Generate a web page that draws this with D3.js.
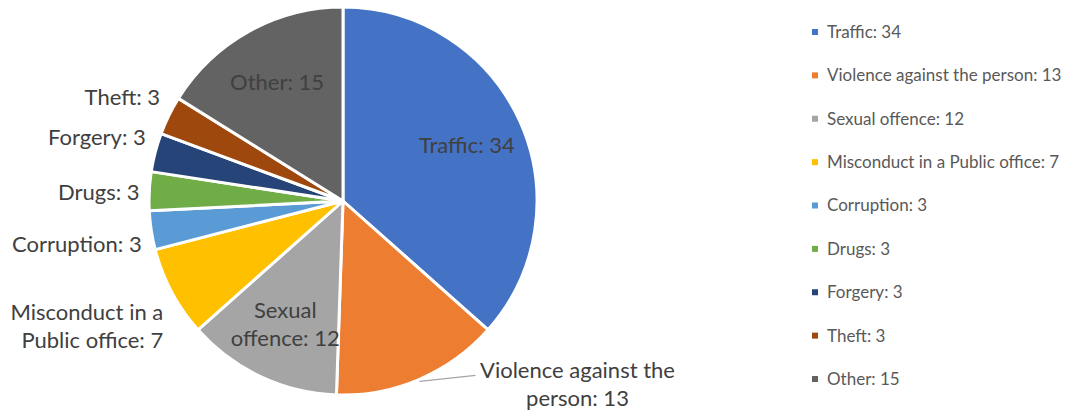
<!DOCTYPE html>
<html>
<head>
<meta charset="utf-8">
<script src="https://cdn.jsdelivr.net/npm/d3@7"></script>
<style>
  body { margin: 0; background: #fff; }
  svg { display: block; font-family: Lato, "Noto Sans", sans-serif; }
</style>
</head>
<body>
<svg id="chart"></svg>
<script>
// Offence categories pie

const categories = ["Traffic", "Violence against the person", "Sexual offence",
  "Misconduct in a Public office", "Corruption", "Drugs", "Forgery", "Theft", "Other"];
const counts = [34, 13, 12, 7, 3, 3, 3, 3, 15];
const colors = ["#4472C4", "#ED7D31", "#A5A5A5", "#FFC000", "#5B9BD5",
  "#70AD47", "#264478", "#9E480E", "#636363"];
// how each data label is wrapped / where it sits
const labelLines = [
  ["Traffic: 34"],
  ["Violence against the", "person: 13"],
  ["Sexual", "offence: 12"],
  ["Misconduct in a", "Public office: 7"],
  ["Corruption: 3"],
  ["Drugs: 3"],
  ["Forgery: 3"],
  ["Theft: 3"],
  ["Other: 15"]
];
const labelPlace = ["in", "leader", "in", "out", "out", "out", "out", "out", "in"];

(function () {
  const W = 1069, H = 416;
  const CX = 343, CY = 201, R = 194;
  const LABEL = "#404040", LEGEND = "#595959";

  const data = categories.map((c, i) => ({
    name: c, value: counts[i], color: colors[i],
    lines: labelLines[i], place: labelPlace[i]
  }));

  const svg = d3.select("#chart").attr("width", W).attr("height", H);
  const g = svg.append("g").attr("transform", `translate(${CX},${CY})`);

  const pie = d3.pie().value(d => d.value).sort(null);
  const arcs = pie(data);
  const arc = d3.arc().innerRadius(0).outerRadius(R);
  const arcIn = d3.arc().innerRadius(R * 0.7).outerRadius(R * 0.7);

  // Slices
  g.selectAll("path.slice")
    .data(arcs)
    .join("path")
    .attr("class", "slice")
    .attr("d", arc)
    .attr("fill", d => d.data.color)
    .attr("stroke", "#fff")
    .attr("stroke-width", 3)
    .attr("stroke-linejoin", "round");

  const mid = d => (d.startAngle + d.endAngle) / 2;
  const fs = 22, lh = 28;

  arcs.forEach(d => {
    const a = mid(d);
    const sx = Math.sin(a), cy = -Math.cos(a);
    const lines = d.data.lines;
    let tx, ty, anchor, firstDy;

    if (d.data.place === "in") {
      [tx, ty] = arcIn.centroid(d);
      anchor = "middle";
      firstDy = -(lines.length - 1) * lh / 2;
    } else if (d.data.place === "out") {
      tx = (R * 1.05) * sx;
      ty = (R * 1.1) * cy;
      anchor = "end";
      if (cy < -0.15) firstDy = -(lines.length - 1) * lh - 10;  // above: sits on the point
      else if (cy > 0.15) firstDy = 11;                         // below: hangs from the point
      else firstDy = -(lines.length - 1) * lh / 2 + 2;
    } else {
      // leader line label
      const ex = R * sx, ey = R * cy;
      const lx = ex + 56, ly = ey - 4;
      g.append("polyline")
        .attr("points", `${ex},${ey + 2} ${lx},${ly}`)
        .attr("fill", "none")
        .attr("stroke", "#a6a6a6")
        .attr("stroke-width", 1.3);
      tx = lx + 102;
      ty = ly + 9;
      anchor = "middle";
      firstDy = -lh / 2;
    }

    const t = g.append("text")
      .attr("x", tx).attr("y", ty)
      .attr("text-anchor", anchor)
      .attr("fill", LABEL)
      .attr("font-size", fs);
    lines.forEach((s, i) => {
      t.append("tspan")
        .attr("x", tx)
        .attr("y", ty + firstDy + i * lh)
        .attr("dy", "0.35em")
        .text(s);
    });
  });

  // Legend
  const ly = d3.scalePoint()
    .domain(categories)
    .range([32, 379]);

  const leg = svg.append("g").attr("transform", "translate(815,0)");
  const items = leg.selectAll("g")
    .data(data)
    .join("g")
    .attr("transform", d => `translate(0,${ly(d.name)})`);
  items.append("rect")
    .attr("x", -3).attr("y", -3)
    .attr("width", 6).attr("height", 6)
    .attr("fill", d => d.color);
  items.append("text")
    .attr("x", 12).attr("dy", "0.35em")
    .attr("fill", LEGEND)
    .attr("font-size", 17)
    .text(d => `${d.name}: ${d.value}`);
})();
</script>
</body>
</html>
